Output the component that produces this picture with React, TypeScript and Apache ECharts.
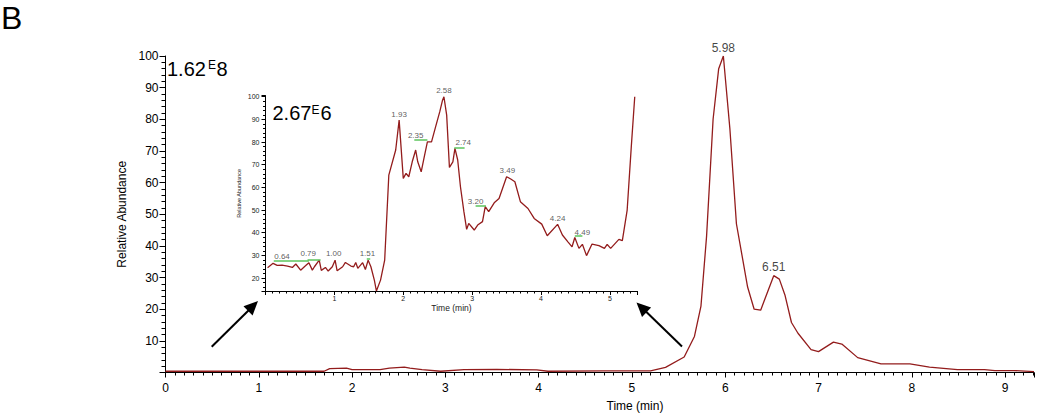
import { useEffect, useRef } from "react";
import * as echarts from "echarts";

const FONT = '"Liberation Sans", Arial, sans-serif';
const LINE_COLOR = "#931c1c";

// Main chromatogram (Time in min, Relative Abundance %)
const mainTimes = [0, 0.5, 1.0, 1.5, 1.7, 1.76, 1.94, 2.0, 2.3, 2.4, 2.56, 2.62, 2.75, 2.95, 3.2, 3.55, 3.98, 4.1, 4.7, 5.2, 5.36, 5.56, 5.67, 5.74, 5.8, 5.87, 5.93, 5.98, 6.05, 6.12, 6.24, 6.31, 6.38, 6.52, 6.58, 6.64, 6.71, 6.78, 6.92, 7.0, 7.16, 7.25, 7.42, 7.67, 7.98, 8.19, 8.49, 8.78, 8.89, 9.1, 9.31];
const mainValues = [0.4, 0.4, 0.4, 0.4, 0.4, 1.2, 1.4, 0.9, 0.9, 1.4, 1.7, 1.4, 0.9, 0.4, 0.9, 1.0, 0.8, 0.4, 0.5, 0.5, 1.6, 4.9, 11.4, 21, 43, 80, 96, 100, 77, 47, 27, 20, 19.7, 30.6, 29.5, 24.5, 15.8, 12.4, 7.2, 6.6, 9.6, 9.0, 4.7, 2.7, 2.7, 1.7, 0.9, 0.9, 0.6, 0.6, 0.3];
const mainPeakLabels = ["5.98", "6.51"];
const mainPeakTimes = [5.98, 6.52];
const mainPeakValues = [100, 30.6];

// Inset chromatogram (zoom 0 - 5.4 min)
const insetTimes = [0.03, 0.11, 0.17, 0.24, 0.32, 0.39, 0.44, 0.51, 0.58, 0.63, 0.68, 0.71, 0.78, 0.81, 0.87, 0.91, 0.97, 1.01, 1.04, 1.12, 1.16, 1.24, 1.28, 1.31, 1.34, 1.41, 1.45, 1.49, 1.53, 1.58, 1.61, 1.67, 1.73, 1.79, 1.89, 1.94, 2.0, 2.04, 2.08, 2.13, 2.18, 2.21, 2.26, 2.3, 2.35, 2.41, 2.47, 2.53, 2.57, 2.59, 2.63, 2.67, 2.72, 2.75, 2.79, 2.83, 2.88, 2.92, 2.95, 3.03, 3.08, 3.15, 3.19, 3.24, 3.32, 3.39, 3.5, 3.56, 3.62, 3.7, 3.81, 3.9, 4.01, 4.09, 4.24, 4.31, 4.39, 4.45, 4.49, 4.55, 4.6, 4.66, 4.74, 4.84, 4.92, 4.96, 5.01, 5.13, 5.18, 5.25, 5.31, 5.36];
const insetValues = [24.6, 26.5, 25.6, 25.7, 25.3, 24.7, 26.2, 23.5, 25.4, 26.8, 23.5, 25.0, 27.9, 23.4, 24.7, 23.1, 25.0, 27.9, 23.2, 25.0, 26.9, 25.3, 25.0, 26.9, 24.3, 26.8, 23.8, 27.9, 25.0, 19.1, 14.3, 19.1, 27.9, 65.4, 76.5, 89.7, 64.0, 66.2, 64.7, 71.3, 76.5, 71.3, 66.9, 72.8, 80.1, 80.1, 86.8, 93.4, 98.5, 100, 91.9, 68.8, 71.3, 77.2, 72.1, 60.3, 49.3, 41.5, 44.1, 41.2, 43.4, 44.9, 51.5, 49.3, 53.2, 55.1, 64.7, 63.7, 62.5, 53.7, 50.7, 46.3, 43.8, 38.7, 43.7, 39.0, 36.0, 33.8, 37.9, 33.1, 34.9, 29.9, 35.0, 34.3, 33.1, 34.9, 33.1, 37.1, 36.5, 50.0, 78.0, 100];
const insetPeakLabels = ["0.64", "0.79", "1.00", "1.51", "1.93", "2.35", "2.58", "2.74", "3.20", "3.49", "4.24", "4.49"];
const insetPeakLabelTimes = [0.24, 0.62, 0.99, 1.48, 1.94, 2.18, 2.59, 2.87, 3.05, 3.51, 4.24, 4.6];
const insetPeakLabelValues = [29.4, 30.8, 30.8, 30.8, 92.0, 83.0, 102.6, 79.8, 54.0, 67.3, 46.1, 40.2];
// green leader lines from label to peak apex
const leaderStarts = [0.12, 0.61, 1.47, 2.16, 2.74, 3.05, 4.49];
const leaderEnds = [0.63, 0.8, 1.52, 2.35, 2.89, 3.2, 4.6];
const leaderValues = [27.5, 28.2, 28.4, 81.2, 77.5, 51.9, 38.5];

function zip(a: number[], b: number[]) {
  return a.map((v, i) => [v, b[i]]);
}

function arrow(x1: number, y1: number, x2: number, y2: number) {
  const dx = x2 - x1;
  const dy = y2 - y1;
  const len = Math.sqrt(dx * dx + dy * dy);
  const ux = dx / len;
  const uy = dy / len;
  const headL = 14;
  const headW = 6.5;
  const bx = x2 - ux * headL;
  const by = y2 - uy * headL;
  const px = -uy * headW;
  const py = ux * headW;
  return [
    {
      type: "line",
      shape: { x1, y1, x2: bx + ux * 2, y2: by + uy * 2 },
      style: { stroke: "#000", lineWidth: 2 },
      silent: true,
    },
    {
      type: "polygon",
      shape: { points: [[x2, y2], [bx + px, by + py], [bx - px, by - py]] },
      style: { fill: "#000" },
      silent: true,
    },
  ];
}

export default function App() {
  const ref = useRef<HTMLDivElement>(null);

  useEffect(() => {
    if (!ref.current) return;
    const chart = echarts.init(ref.current, null, { renderer: "svg" });
    const intLabel = (v: number) => (Math.abs(v - Math.round(v)) < 1e-6 ? String(Math.round(v)) : "");
    const insetXLabel = (v: number) => (v > 0.5 && Math.abs(v - Math.round(v)) < 1e-6 ? String(Math.round(v)) : "");
    const tenLabel = (v: number) => (Math.abs(v / 10 - Math.round(v / 10)) < 1e-6 ? String(Math.round(v)) : "");

    const option: any = {
      animation: false,
      backgroundColor: "#fff",
      textStyle: { fontFamily: FONT },
      grid: [
        { left: 165.5, top: 56, width: 871.5, height: 316.5, containLabel: false },
        { left: 265.5, top: 95.6, width: 372, height: 195.4, containLabel: false },
      ],
      xAxis: [
        {
          type: "value",
          gridIndex: 0,
          min: 0,
          max: 9.31,
          interval: 1,
          axisLine: { show: true, onZero: false, lineStyle: { color: "#000", width: 1 } },
          axisTick: { show: true, length: 5, lineStyle: { color: "#000" } },
          minorTick: { show: true, splitNumber: 10, length: 3, lineStyle: { color: "#000" } },
          axisLabel: { formatter: intLabel, fontSize: 12, color: "#000", margin: 9, fontFamily: FONT },
          splitLine: { show: false },
        },
        {
          type: "value",
          gridIndex: 1,
          min: 0,
          max: 5.4,
          interval: 1,
          name: "Time (min)",
          nameLocation: "middle",
          nameGap: 12,
          nameTextStyle: { fontSize: 8.5, color: "#222", fontFamily: FONT },
          axisLine: { show: true, onZero: false, lineStyle: { color: "#000", width: 1 } },
          axisTick: { show: true, length: 4, lineStyle: { color: "#000" } },
          minorTick: { show: true, splitNumber: 10, length: 2.5, lineStyle: { color: "#000" } },
          axisLabel: { formatter: insetXLabel, fontSize: 7, color: "#222", margin: 4, fontFamily: FONT },
          splitLine: { show: false },
        },
      ],
      yAxis: [
        {
          type: "value",
          gridIndex: 0,
          min: 0,
          max: 100,
          interval: 10,
          name: "Relative Abundance",
          nameLocation: "middle",
          nameGap: 30,
          nameTextStyle: { fontSize: 12, color: "#000", fontFamily: FONT },
          axisLine: { show: true, onZero: false, lineStyle: { color: "#000", width: 1 } },
          axisTick: { show: true, length: 6, lineStyle: { color: "#000" } },
          minorTick: { show: true, splitNumber: 5, length: 4, lineStyle: { color: "#000" } },
          axisLabel: { showMinLabel: false, fontSize: 12, color: "#000", margin: 7, fontFamily: FONT },
          splitLine: { show: false },
        },
        {
          type: "value",
          gridIndex: 1,
          min: 14.3,
          max: 100.5,
          splitNumber: 8,
          name: "Relative Abundance",
          nameLocation: "middle",
          nameGap: 24,
          nameTextStyle: { fontSize: 5.5, color: "#222", fontFamily: FONT },
          axisLine: { show: true, onZero: false, lineStyle: { color: "#000", width: 1 } },
          axisTick: { show: true, length: 4, lineStyle: { color: "#000" } },
          minorTick: { show: true, splitNumber: 5, length: 2.5, lineStyle: { color: "#000" } },
          axisLabel: { formatter: tenLabel, fontSize: 7, color: "#222", margin: 6, fontFamily: FONT },
          splitLine: { show: false },
        },
      ],
      series: [
        {
          type: "line",
          xAxisIndex: 0,
          yAxisIndex: 0,
          data: zip(mainTimes, mainValues),
          symbol: "none",
          lineStyle: { color: LINE_COLOR, width: 1.3 },
          silent: true,
        },
        {
          type: "scatter",
          xAxisIndex: 0,
          yAxisIndex: 0,
          symbolSize: 1,
          clip: false,
          itemStyle: { color: "transparent" },
          data: mainPeakLabels.map((n, i) => ({ name: n, value: [mainPeakTimes[i], mainPeakValues[i]] })),
          label: {
            show: true,
            position: "top",
            distance: 2,
            formatter: "{b}",
            fontSize: 12,
            color: "#111",
            fontFamily: FONT,
          },
          silent: true,
        },
        {
          type: "line",
          xAxisIndex: 1,
          yAxisIndex: 1,
          data: zip(insetTimes, insetValues),
          symbol: "none",
          lineStyle: { color: LINE_COLOR, width: 1.3 },
          silent: true,
          markLine: {
            silent: true,
            symbol: ["none", "none"],
            label: { show: false },
            lineStyle: { color: "#5cc45c", width: 1.5, type: "solid" },
            data: leaderStarts.map((s, i) => [
              { coord: [s, leaderValues[i]] },
              { coord: [leaderEnds[i], leaderValues[i]] },
            ]),
          },
        },
        {
          type: "scatter",
          xAxisIndex: 1,
          yAxisIndex: 1,
          symbolSize: 1,
          clip: false,
          itemStyle: { color: "transparent" },
          data: insetPeakLabels.map((n, i) => ({ name: n, value: [insetPeakLabelTimes[i], insetPeakLabelValues[i]] })),
          label: {
            show: true,
            position: "inside",
            formatter: "{b}",
            fontSize: 8,
            color: "#333",
            fontFamily: FONT,
          },
          silent: true,
        },
      ],
      graphic: [
        { type: "text", x: 1, y: 17.7, style: { text: "B", font: `32px ${FONT}`, fill: "#000", verticalAlign: "middle", align: "left" } },
        { type: "text", x: 167, y: 68.7, style: { text: "1.62", font: `20px ${FONT}`, fill: "#000", verticalAlign: "middle", align: "left" } },
        { type: "text", x: 208, y: 65, style: { text: "E", font: `12px ${FONT}`, fill: "#000", verticalAlign: "middle", align: "left" } },
        { type: "text", x: 216.5, y: 68.7, style: { text: "8", font: `20px ${FONT}`, fill: "#000", verticalAlign: "middle", align: "left" } },
        { type: "text", x: 272.5, y: 113.3, style: { text: "2.67", font: `20px ${FONT}`, fill: "#000", verticalAlign: "middle", align: "left" } },
        { type: "text", x: 311.5, y: 109.7, style: { text: "E", font: `12px ${FONT}`, fill: "#000", verticalAlign: "middle", align: "left" } },
        { type: "text", x: 320.5, y: 113.3, style: { text: "6", font: `20px ${FONT}`, fill: "#000", verticalAlign: "middle", align: "left" } },
        { type: "text", x: 635, y: 406, style: { text: "Time (min)", font: `12px ${FONT}`, fill: "#000", verticalAlign: "middle", align: "center" } },
        ...arrow(211.7, 346.7, 258, 301),
        ...arrow(682, 346.5, 636.5, 302.5),
      ],
    };
    chart.setOption(option);
    return () => chart.dispose();
  }, []);

  return (
    <div
      ref={ref}
      style={{ position: "absolute", left: 0, top: 0, width: 1037, height: 417, background: "#fff" }}
    />
  );
}
